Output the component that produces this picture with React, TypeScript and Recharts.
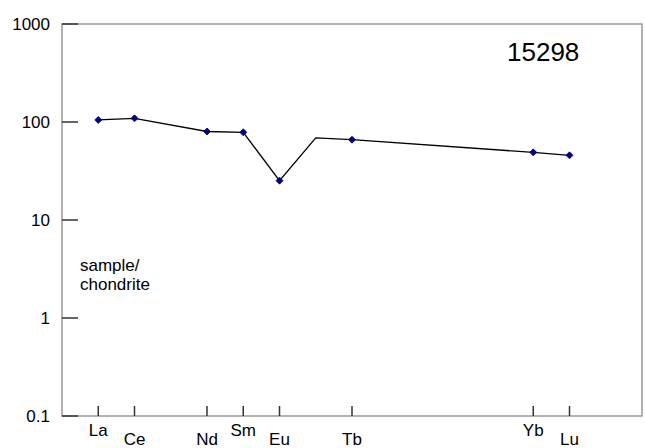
import { LineChart, Line, XAxis, YAxis, ReferenceArea } from 'recharts';

// REE abundances normalised to chondrite, sample 15298
const elements = ['La', 'Ce', 'Pr', 'Nd', 'Sm', 'Eu', 'Gd', 'Tb', 'Dy', 'Ho', 'Er', 'Tm', 'Yb', 'Lu'];
const normalized = [105, 109, null, 80, 78.5, 25.2, 69, 66, null, null, null, null, 49, 45.7];
const measured = ['La', 'Ce', 'Nd', 'Sm', 'Eu', 'Tb', 'Yb', 'Lu'];
const raisedLabels = ['La', 'Sm', 'Yb'];
const yTicks = [0.1, 1, 10, 100, 1000];
const sampleName = '15298';

const data = elements.map((el, i) => ({ x: i, el, value: normalized[i] }));
const xTicks = elements.map((el, i) => (measured.includes(el) ? i : -1)).filter((i) => i >= 0);

const FONT = '"Liberation Sans", Arial, sans-serif';

function XTick(props: any) {
  const { x, y, payload } = props;
  const name = elements[payload.value];
  const raised = raisedLabels.includes(name);
  return (
    <g>
      <line x1={x} x2={x} y1={y} y2={y - 10} stroke="#333" strokeWidth={1.5} />
      <text x={x} y={y + (raised ? 20 : 29)} textAnchor="middle" fontSize={17} fontFamily={FONT} fill="#000">
        {name}
      </text>
    </g>
  );
}

function YTick(props: any) {
  const { x, y, payload } = props;
  return (
    <g>
      <line x1={x + 12} x2={x + 28} y1={y} y2={y} stroke="#333" strokeWidth={1.5} />
      <text x={x} y={y + 6} textAnchor="end" fontSize={17} fontFamily={FONT} fill="#000">
        {String(payload.value)}
      </text>
    </g>
  );
}

function Marker(props: any) {
  const { cx, cy, payload } = props;
  if (!measured.includes(payload.el) || cx == null || cy == null) return <g key={payload.el} />;
  return (
    <polygon
      key={payload.el}
      points={`${cx},${cy - 3.5} ${cx + 3.5},${cy} ${cx},${cy + 3.5} ${cx - 3.5},${cy}`}
      fill="#000080"
      stroke="#000080"
      strokeWidth={0.8}
    />
  );
}

export default function App() {
  return (
    <div style={{ position: 'absolute', left: 0, top: 0, width: 645, height: 448, background: '#fff', fontFamily: FONT }}>
      <LineChart width={645} height={448} data={data} margin={{ top: 24, right: 3, left: 0, bottom: 0 }}>
        <ReferenceArea x1={-1} x2={15} y1={0.1} y2={1000} fill="none" stroke="#999" strokeWidth={1.5} ifOverflow="visible" />
        <XAxis
          dataKey="x"
          type="number"
          domain={[-1, 15]}
          ticks={xTicks}
          interval={0}
          height={32}
          tickSize={0}
          tickMargin={0}
          axisLine={false}
          tickLine={false}
          tick={<XTick />}
        />
        <YAxis
          scale="log"
          domain={[0.1, 1000]}
          ticks={yTicks}
          allowDataOverflow
          width={62}
          tickSize={0}
          tickMargin={12}
          axisLine={false}
          tickLine={false}
          tick={<YTick />}
          interval={0}
        />
        <Line
          dataKey="value"
          stroke="#000"
          strokeWidth={1.3}
          connectNulls
          dot={<Marker />}
          activeDot={false}
          isAnimationActive={false}
        />
      </LineChart>
      <div style={{ position: 'absolute', left: 507, top: 37, fontSize: 26, lineHeight: '30px', color: '#000' }}>{sampleName}</div>
      <div style={{ position: 'absolute', left: 80, top: 256, fontSize: 17, lineHeight: '19px', color: '#000' }}>
        sample/
        <br />
        chondrite
      </div>
    </div>
  );
}
